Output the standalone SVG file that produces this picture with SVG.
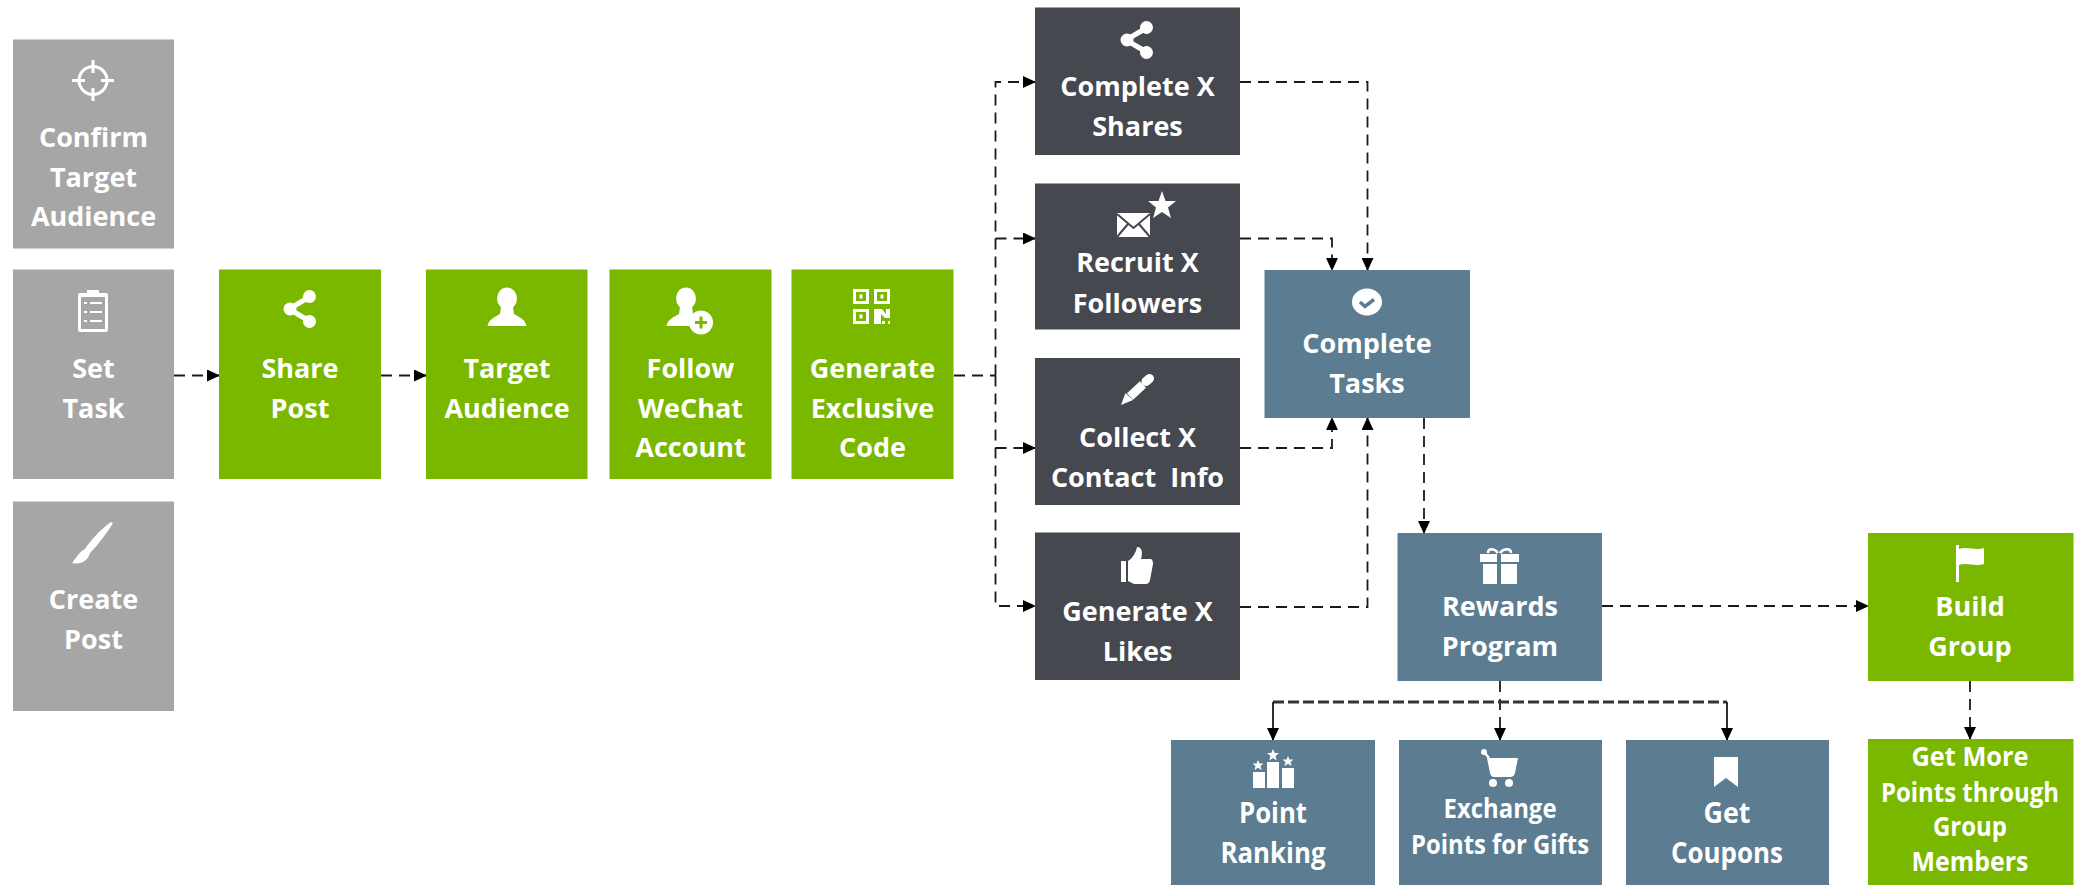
<svg xmlns="http://www.w3.org/2000/svg" width="2080" height="885" viewBox="0 0 2080 885">
<style>
.grey{fill:#a6a6a6}.green{fill:#7ab800}.dark{fill:#46484f}.blue{fill:#5b7c91}
text{font-family:"Open Sans","Noto Sans","DejaVu Sans",sans-serif;font-weight:700;font-size:27px;fill:#fff;text-anchor:middle;white-space:pre}
.nar{font-size:28px}
.sm{font-size:26px}
.ic{fill:#fff}
.c{fill:none;stroke:#1a1a1a;stroke-width:1.800;stroke-dasharray:11 7}
.s{stroke-dasharray:none}
.a{fill:#000}
</style>
<defs>
<marker id="ah" markerWidth="14" markerHeight="12" refX="12" refY="6" orient="auto" markerUnits="userSpaceOnUse"><path class="a" d="M0 0L13 6L0 12Z"/></marker>
<symbol id="share" overflow="visible"><path d="M-11 0L11-13M-11 0L11 13" stroke="#fff" stroke-width="5" fill="none"/><circle cx="-10" cy="0" r="6.500" class="ic"/><circle cx="9.500" cy="-12.500" r="6.500" class="ic"/><circle cx="9.500" cy="12.500" r="6.500" class="ic"/></symbol>
<symbol id="person" overflow="visible"><ellipse cx="0" cy="-8.500" rx="10" ry="11" class="ic"/><path class="ic" d="M-6 0H6L7 7C12 10 18 12 19.500 19H-19.500C-18 12-12 10-7 7Z"/></symbol>
</defs>
<g id="connectors">
<path class="c" marker-end="url(#ah)" d="M174 375.500H219"/>
<path class="c" marker-end="url(#ah)" d="M381 375.500H426"/>
<path class="c" d="M954 375.500H995.500"/>
<path class="c" marker-end="url(#ah)" d="M995.500 375.500V82H1035"/>
<path class="c" marker-end="url(#ah)" d="M995.500 238.500H1035"/>
<path class="c" marker-end="url(#ah)" d="M995.500 375.500V606H1035"/>
<path class="c" marker-end="url(#ah)" d="M995.500 448H1035"/>
<path class="c" marker-end="url(#ah)" d="M1240 82H1367.500V270"/>
<path class="c" marker-end="url(#ah)" d="M1240 238.500H1332V270"/>
<path class="c" marker-end="url(#ah)" d="M1240 448H1332V418"/>
<path class="c" marker-end="url(#ah)" d="M1240 607H1367.500V418"/>
<path class="c" marker-end="url(#ah)" d="M1424 418V533"/>
<path class="c" marker-end="url(#ah)" d="M1602 606H1868"/>
<path class="c" marker-end="url(#ah)" d="M1500 681V740"/>
<path class="c" style="stroke-width:3;stroke:#333;stroke-dasharray:11 4" d="M1273 702H1727"/>
<path class="c s" marker-end="url(#ah)" d="M1273 702V740"/>
<path class="c s" marker-end="url(#ah)" d="M1727 702V740"/>
<path class="c" marker-end="url(#ah)" d="M1970 681V739"/>
</g>
<g id="confirm-target-audience"><rect class="grey" x="13" y="39.500" width="161" height="209"/>
<circle cx="93" cy="80.500" r="14" fill="none" stroke="#fff" stroke-width="3"/><path d="M93 60V73M93 88V101M72 80.500H85M101 80.500H114" stroke="#fff" stroke-width="3"/>
<text x="93.500" y="147">Confirm</text><text x="93.500" y="187">Target</text><text x="93.500" y="226">Audience</text></g>
<g id="set-task"><rect class="grey" x="13" y="269.500" width="161" height="209.500"/>
<path class="ic" fill-rule="evenodd" d="M80 293H87V290H99V293H106Q108 293 108 295V330Q108 332 106 332H80Q78 332 78 330V295Q78 293 80 293ZM81 297V329H105V297Z"/>
<path class="ic" d="M84 302h3v2h-3zM90 302h12v2h-12zM84 311h3v2h-3zM90 311h12v2h-12zM84 320h3v2h-3zM90 320h12v2h-12z"/>
<text x="93.500" y="377.500">Set</text><text x="93.500" y="417.500">Task</text></g>
<g id="create-post"><rect class="grey" x="13" y="501.500" width="161" height="209.500"/>
<path class="ic" d="M113 523L111 522C102 528 90 541 85 549C80 551 77 557 72 563C80 565 88 561 90 553C97 546 108 532 113 523Z"/>
<text x="93.500" y="609">Create</text><text x="93.500" y="649">Post</text></g>
<g id="share-post"><rect class="green" x="219" y="269.500" width="162" height="209.500"/>
<use href="#share" x="300" y="309"/>
<text x="300" y="377.500">Share</text><text x="300" y="417.500">Post</text></g>
<g id="target-audience"><rect class="green" x="426" y="269.500" width="161.500" height="209.500"/>
<use href="#person" x="507" y="307"/>
<text x="507" y="378">Target</text><text x="507" y="418">Audience</text></g>
<g id="follow-wechat-account"><rect class="green" x="609.500" y="269.500" width="162" height="209.500"/>
<use href="#person" x="686" y="307"/>
<circle cx="701" cy="322.500" r="12" class="ic"/><path d="M701 316.500v12M695 322.500h12" stroke="#7ab800" stroke-width="3"/>
<text x="690.500" y="378">Follow</text><text x="690.500" y="418">WeChat</text><text x="690.500" y="457">Account</text></g>
<g id="generate-exclusive-code"><rect class="green" x="791.500" y="269.500" width="162" height="209.500"/>
<path class="ic" fill-rule="evenodd" d="M853 289h16v15h-16zM856 292v9h10v-9zM859.500 294.500h3v4h-3zM874 289h16v15h-16zM877 292v9h10v-9zM880.500 294.500h3v4h-3zM853 309h16v15h-16zM856 312v9h10v-9zM859.500 314.500h3v4h-3zM874 309h3v15h-3zM877 309h5l4 5v-5h4v9h-5l-4-4v10h-4z"/>
<path class="ic" d="M882 321h3v3h-3zM888 321h2v3h-2z"/>
<text x="872.500" y="378">Generate</text><text x="872.500" y="418">Exclusive</text><text x="872.500" y="457">Code</text></g>
<g id="complete-x-shares"><rect class="dark" x="1035" y="7.500" width="205" height="147.500"/>
<use href="#share" x="1137" y="40"/>
<text x="1137.500" y="96">Complete X</text><text x="1137.500" y="136">Shares</text></g>
<g id="recruit-x-followers"><rect class="dark" x="1035" y="183.500" width="205" height="146"/>
<rect class="ic" x="1117" y="213" width="33" height="24"/><path d="M1117 214L1133.500 228L1150 214M1117 237L1128 224M1150 237L1139 224" fill="none" stroke="#46484f" stroke-width="2"/>
<path class="ic" d="M1162 191L1165.500 201H1176L1168 207.500L1171 218L1162 212L1153 218L1156 207.500L1148 201H1158.500Z"/>
<text x="1137.500" y="272">Recruit X</text><text x="1137.500" y="312.500">Followers</text></g>
<g id="collect-x-contact-info"><rect class="dark" x="1035" y="358" width="205" height="147"/>
<path d="M1130 396.500L1143 384.500" stroke="#fff" stroke-width="9"/><path d="M1146 381.500L1149.500 378.500" stroke="#fff" stroke-width="9" stroke-linecap="round"/><path class="ic" d="M1121 405L1125.500 393L1133 400Z"/>
<text x="1137.500" y="446.500">Collect X</text><text x="1137.500" y="486.500">Contact  Info</text></g>
<g id="generate-x-likes"><rect class="dark" x="1035" y="532.500" width="205" height="147.500"/>
<path class="ic" d="M1121 561H1126V582H1121ZM1128 561C1133 558 1136 552 1137 547C1142 547 1143 552 1141 559H1151Q1153 560 1153 564L1150 580Q1149 584 1146 584H1134L1128 581Z"/>
<text x="1137.500" y="620.500">Generate X</text><text x="1137.500" y="660.500">Likes</text></g>
<g id="complete-tasks"><rect class="blue" x="1264.500" y="270" width="205.500" height="148"/>
<ellipse cx="1367" cy="302" rx="15" ry="13.500" class="ic"/><path d="M1360 302l5 4.500l9-7" fill="none" stroke="#5b7c91" stroke-width="3.500"/>
<text x="1367" y="352.500">Complete</text><text x="1367" y="393">Tasks</text></g>
<g id="rewards-program"><rect class="blue" x="1397.500" y="533" width="204.500" height="148"/>
<path class="ic" d="M1480 554H1497V562H1480ZM1501 554H1519V562H1501ZM1483 564H1497V584H1483ZM1501 564H1517V584H1501Z"/><path d="M1498 553C1494 548 1488 548 1488 553M1500 553C1504 548 1511 548 1511 553" fill="none" stroke="#fff" stroke-width="2.500"/>
<text x="1500" y="616">Rewards</text><text x="1500" y="656">Program</text></g>
<g id="build-group"><rect class="green" x="1868" y="533" width="205.500" height="148"/>
<path class="ic" d="M1956 545H1959V582H1956ZM1959 549C1967 546 1975 551 1984 548V564C1975 567 1967 562 1959 565Z"/>
<text x="1970" y="616">Build</text><text x="1970" y="656">Group</text></g>
<g id="point-ranking"><rect class="blue" x="1171" y="740" width="204" height="145"/>
<path class="ic" d="M1253 772H1265V788H1253ZM1267 762H1279V788H1267ZM1282 768H1294V788H1282Z"/>
<path class="ic" d="M1273 749l1.700 4h4.300l-3.500 3l1.300 4.500l-3.800-2.500l-3.800 2.500l1.300-4.500l-3.500-3h4.300zM1258 760l1.500 3.500h4l-3 2.500l1 4l-3.500-2.200l-3.500 2.200l1-4l-3-2.500h4zM1288 756l1.500 3.500h4l-3 2.500l1 4l-3.500-2.200l-3.500 2.200l1-4l-3-2.500h4z"/>
<text x="1273" y="823" class="nar" textLength="68" lengthAdjust="spacingAndGlyphs">Point</text><text x="1273" y="863" class="nar" textLength="105" lengthAdjust="spacingAndGlyphs">Ranking</text></g>
<g id="exchange-points-for-gifts"><rect class="blue" x="1399" y="740" width="203" height="145"/>
<circle cx="1484" cy="752" r="3" class="ic"/><path d="M1484 752L1489 758" stroke="#fff" stroke-width="2.500"/>
<path class="ic" d="M1487 758H1518L1515 773Q1514 777 1510 777H1494Q1491 777 1490 773Z"/><circle cx="1493" cy="783" r="4" class="ic"/><circle cx="1509" cy="783" r="4" class="ic"/>
<text x="1500" y="818" class="sm" textLength="113" lengthAdjust="spacingAndGlyphs">Exchange</text><text x="1500" y="854" class="sm" textLength="178" lengthAdjust="spacingAndGlyphs">Points for Gifts</text></g>
<g id="get-coupons"><rect class="blue" x="1626" y="740" width="203" height="145"/>
<path class="ic" d="M1714 757H1738V787L1726 778L1714 787Z"/>
<text x="1727" y="823" class="nar" textLength="47" lengthAdjust="spacingAndGlyphs">Get</text><text x="1727" y="863" class="nar" textLength="112" lengthAdjust="spacingAndGlyphs">Coupons</text></g>
<g id="get-more-points"><rect class="green" x="1868" y="739" width="205.500" height="146"/>
<text x="1970" y="766" class="sm" textLength="117" lengthAdjust="spacingAndGlyphs">Get More</text><text x="1970" y="802" class="sm" textLength="178" lengthAdjust="spacingAndGlyphs">Points through</text><text x="1970" y="836" class="sm" textLength="74" lengthAdjust="spacingAndGlyphs">Group</text><text x="1970" y="871" class="sm" textLength="117" lengthAdjust="spacingAndGlyphs">Members</text></g>
</svg>
